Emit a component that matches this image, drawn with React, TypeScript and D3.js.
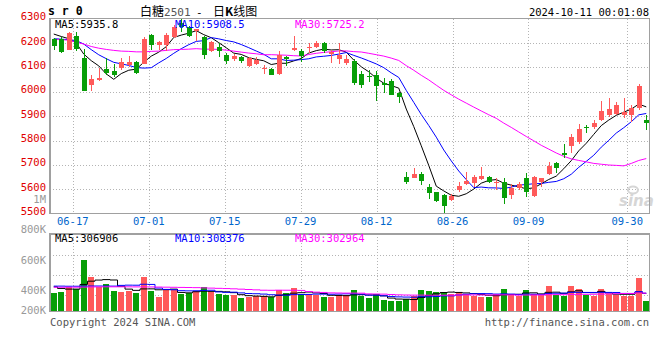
import React from 'react';
import * as d3 from 'd3';

const dates = [
  '06-12','06-13','06-14','06-17','06-18','06-19','06-20','06-21','06-24','06-25','06-26','06-27','06-28',
  '07-01','07-02','07-03','07-04','07-05','07-08','07-09','07-10','07-11','07-12','07-15','07-16','07-17','07-18','07-19',
  '07-22','07-23','07-24','07-25','07-26','07-29','07-30','07-31','08-01','08-02','08-05','08-06','08-07','08-08','08-09',
  '08-12','08-13','08-14','08-15','08-16','08-19','08-20','08-21','08-22','08-23','08-26','08-27','08-28','08-29','08-30',
  '09-02','09-03','09-04','09-05','09-06','09-09','09-10','09-11','09-12','09-13','09-18','09-19','09-20',
  '09-23','09-24','09-25','09-26','09-27','09-30','10-08','10-09','10-10'
];

const open = [
  6215,6218,6171,6229,6138,6029,6048,6093,6086,6097,6111,6122,6116,6234,6193,6193,6223,6284,6264,6248,
  6223,6166,6185,6152,6133,6141,6105,6116,6092,6094,6073,6144,6171,6168,6180,6185,6199,6155,6133,6119,
  6125,6073,6064,6070,6036,6045,5994,5649,5648,5663,5608,5588,5577,5556,5597,5622,5626,5642,5649,5626,
  5631,5577,5604,5648,5573,5631,5662,5708,5748,5778,5793,5856,5855,5885,5905,5911,5905,5905,5933,5885
];
const high = [
  6221,6223,6245,6245,6177,6067,6097,6138,6116,6138,6149,6127,6223,6237,6210,6242,6275,6300,6270,6259,
  6229,6210,6199,6158,6155,6149,6144,6144,6111,6097,6166,6149,6229,6174,6199,6210,6204,6171,6199,6152,
  6133,6084,6090,6084,6056,6052,5999,5670,5686,5670,5620,5590,5579,5579,5629,5670,5659,5690,5655,5645,
  5648,5620,5631,5666,5653,5648,5714,5711,5785,5826,5867,5864,5885,5963,5974,5960,5974,5944,6031,5903
];
const low = [
  6173,6160,6171,6166,6004,6004,6045,6070,6059,6090,6100,6074,6114,6173,6173,6168,6220,6245,6223,6207,
  6136,6163,6141,6114,6127,6119,6103,6111,6073,6067,6070,6105,6168,6122,6158,6180,6158,6119,6116,6111,
  6026,6015,6042,5963,5994,5985,5953,5622,5645,5618,5560,5547,5501,5552,5590,5618,5611,5638,5625,5597,
  5540,5560,5597,5567,5570,5611,5659,5666,5727,5748,5785,5830,5848,5881,5897,5903,5892,5878,5926,5844
];
const close = [
  6188,6163,6242,6177,6004,6053,6056,6077,6067,6121,6122,6078,6218,6193,6203,6234,6267,6267,6231,6256,
  6152,6204,6166,6125,6147,6125,6138,6130,6097,6070,6152,6136,6179,6147,6182,6201,6166,6163,6152,6133,
  6037,6029,6060,6022,6029,5988,5977,5631,5662,5636,5584,5552,5533,5574,5614,5636,5649,5653,5631,5631,
  5563,5607,5620,5590,5651,5645,5696,5689,5742,5816,5847,5851,5871,5922,5930,5944,5916,5933,6025,5873
];
// volume in thousands of lots
const volumeK = [
  305,322,418,379,870,582,418,458,345,328,345,311,582,350,249,356,356,299,316,345,
  407,333,299,277,277,232,249,266,254,237,356,305,396,294,294,283,249,249,283,270,
  356,260,226,288,186,170,175,215,260,356,339,322,322,299,328,299,260,243,243,288,
  373,288,260,356,299,282,424,271,260,424,373,271,260,373,288,271,260,260,565,170
];

const ma5Head = [6237, 6227, 6218, 6200];
const ma10Head = [6218, 6216, 6214, 6210, 6196, 6173, 6152, 6136, 6121];
const ma30Head = [6215,6214,6212,6204,6196,6186,6179,6174,6170,6167,6166,6164,6164,6166,6167,6170,6173,6174,6175,6177,6175,6175,6174,6171,6167,6163,6159,6156,6152];
const volMa5Head = [418, 390, 379, 379];
const volMa10Head = [430, 430, 428, 428, 430, 432, 432, 432, 430];
const volMa30Head = [410,410,411,412,414,416,417,418,418,418,418,417,417,416,414,412,410,408,406,404,400,396,392,388,384,378,372,366,360];

const tickDates = ['06-17','07-01','07-15','07-29','08-12','08-26','09-09','09-30'];
const priceTicks = [6300,6200,6100,6000,5900,5800,5700,5600,5500];
const volTickValues = [1000, 800, 600, 400, 200];
const volTickText = ['1M','800K','600K','400K','200K'];
const volGridSteps = [1, 2, 3];
const priceLegend = ['MA5:5935.8', 'MA10:5908.5', 'MA30:5725.2'];
const volLegend = ['MA5:306906', 'MA10:308376', 'MA30:302964'];
const maColors = ['#000000', '#0000ff', '#ff00ff'];

const RED = '#ff5a5a';
const GREEN = '#079e07';
const GRID = '#b4b4b4';
const MONO = '"DejaVu Sans Mono", "Liberation Mono", monospace';

function movingAvg(values: number[], n: number, head: number[]): number[] {
  return values.map((_, i) => (i < n - 1 ? head[i] : d3.mean(values.slice(i - n + 1, i + 1)) as number));
}

export default function App() {
  const L = 50, R = 650;
  const mainTop = 18.7, mainBottom = 213.7;
  const volTop = 234, volBottom = 311.3;
  const n = close.length;

  const x = d3.scaleBand<number>().domain(d3.range(n)).range([L, R]).paddingInner(0.33).paddingOuter(0.165);
  const cx = (i: number) => (x(i) as number) + x.bandwidth() / 2;
  const gridX = d3.scalePoint<number>().domain(d3.range(n)).range([L, R]);
  const y = d3.scaleLinear().domain([5500, 6300]).range([mainBottom, mainTop]);
  const yv = d3.scaleLinear().domain([0, 1320]).range([volBottom, volTop]);
  const volLabelY = d3.scaleLinear().domain([1000, 400]).range([203.3, 293.6]);
  const volGridY = d3.scaleLinear().domain([0, 4]).range([315.3, 235.3]);

  const ma = [movingAvg(close, 5, ma5Head), movingAvg(close, 10, ma10Head), movingAvg(close, 30, ma30Head)];
  const vma = [movingAvg(volumeK, 5, volMa5Head), movingAvg(volumeK, 10, volMa10Head), movingAvg(volumeK, 30, volMa30Head)];

  const priceLine = d3.line<number>().x((_, i) => cx(i)).y((d) => y(d));
  const volLine = d3.line<number>().x((_, i) => cx(i)).y((d) => yv(d)).curve(d3.curveStep);

  const tickIdx = tickDates.map((t) => dates.indexOf(t));
  const bw = x.bandwidth();
  const vbw = 6;

  return (
    <svg width={660} height={360} style={{ position: 'absolute', left: 0, top: 0, background: '#fff' }}>
      <rect x={0} y={0} width={660} height={360} fill="#fff" />
      {/* title */}
      <text x={48} y={15} fontFamily={MONO} fontWeight="bold" fontSize={11.5} fill="#000">s r 0</text>
      <text x={140} y={16} fontFamily='"Noto Sans CJK SC", sans-serif' fontSize={12} fill="#000">白糖<tspan fill="#555" fontFamily={MONO} fontSize={11}>2501</tspan></text>
      <text x={196} y={16} fontFamily={MONO} fontSize={11} fill="#000">-</text>
      <text x={213} y={16} fontFamily='"Noto Sans CJK SC", sans-serif' fontSize={12} fill="#000">日<tspan fontWeight="bold">K</tspan>线图</text>
      <text x={649} y={15.7} textAnchor="end" fontFamily={MONO} fontSize={10.5} fill="#000">2024-10-11 00:01:08</text>

      {/* main grid */}
      <g stroke={GRID} strokeWidth={1} strokeDasharray="1,2" shapeRendering="crispEdges">
        {priceTicks.slice(1, -1).map((t) => (
          <line key={'h' + t} x1={L} x2={R} y1={Math.round(y(t)) + 0.5} y2={Math.round(y(t)) + 0.5} />
        ))}
        {tickIdx.map((i) => (
          <line key={'v' + i} x1={Math.round(gridX(i) as number) + 0.5} x2={Math.round(gridX(i) as number) + 0.5} y1={mainTop} y2={mainBottom} />
        ))}
        {volGridSteps.map((s) => (
          <line key={'vh' + s} x1={L} x2={R} y1={Math.round(volGridY(s)) + 0.5} y2={Math.round(volGridY(s)) + 0.5} />
        ))}
        {tickIdx.map((i) => (
          <line key={'vv' + i} x1={Math.round(gridX(i) as number) + 0.5} x2={Math.round(gridX(i) as number) + 0.5} y1={volTop} y2={volBottom} />
        ))}
      </g>

      {/* sina watermark */}
      <g fill="#d6d6d6" stroke="none">
        <ellipse cx={633} cy={190} rx={5} ry={3.5} fill="none" stroke="#d6d6d6" strokeWidth={2} />
        <text x={619} y={206} fontFamily='"DejaVu Sans", sans-serif' fontStyle="italic" fontWeight="bold" fontSize={15}>sina</text>
      </g>

      {/* MA lines main */}
      {ma.map((m, k) => (
        <path key={'ma' + k} d={priceLine(m) as string} fill="none" stroke={maColors[k]} strokeWidth={1} />
      ))}

      {/* candles */}
      <g shapeRendering="crispEdges">
        {close.map((c, i) => {
          const o = open[i];
          const up = c >= o;
          const col = up ? RED : GREEN;
          const xc = Math.round(cx(i)) + 0.5;
          const top = y(Math.max(o, c));
          const h = Math.max(1, y(Math.min(o, c)) - top);
          return (
            <g key={'c' + i}>
              <line x1={xc} x2={xc} y1={y(high[i])} y2={y(low[i])} stroke={col} strokeWidth={1} />
              <rect x={xc - bw / 2} y={top} width={bw} height={h} fill={col} />
            </g>
          );
        })}
      </g>

      {/* volume bars */}
      <g shapeRendering="crispEdges">
        {volumeK.map((v, i) => (
          <rect key={'v' + i} x={cx(i) - vbw / 2} y={yv(v)} width={vbw} height={volBottom - yv(v)} fill={close[i] >= open[i] ? RED : GREEN} />
        ))}
      </g>
      {vma.map((m, k) => (
        <path key={'vma' + k} d={volLine(m) as string} fill="none" stroke={maColors[k]} strokeWidth={1} />
      ))}

      {/* borders */}
      <g fill="none" stroke="#a0a0a0" strokeWidth={1.5} shapeRendering="crispEdges">
        <rect x={L} y={mainTop} width={R - L - 0.5} height={mainBottom - mainTop} />
        <rect x={L} y={volTop} width={R - L - 0.5} height={volBottom - volTop} />
      </g>

      {/* legends */}
      {priceLegend.map((t, k) => (
        <text key={'pl' + k} x={[55, 175, 295][k]} y={27.5} fontFamily={MONO} fontSize={10.5} fill={maColors[k]}>{t}</text>
      ))}
      {volLegend.map((t, k) => (
        <text key={'vl' + k} x={[55, 175, 295][k]} y={242} fontFamily={MONO} fontSize={10.5} fill={maColors[k]}>{t}</text>
      ))}

      {/* price axis labels */}
      {priceTicks.map((t) => (
        <text key={'pt' + t} x={46} y={y(t) + 1.5} textAnchor="end" fontFamily={MONO} fontSize={10.5} fill="#e00000">{t}</text>
      ))}
      {volTickValues.map((v, k) => (
        <text key={'vt' + k} x={46} y={Math.min(volLabelY(v), volBottom + 3)} textAnchor="end" fontFamily={MONO} fontSize={10.5} fill="#999">{volTickText[k]}</text>
      ))}

      {/* date labels */}
      {tickIdx.map((i, k) => (
        <text key={'dt' + k} x={gridX(i) as number} y={225} textAnchor="middle" fontFamily={MONO} fontSize={10.5} fill="#0066cc">{tickDates[k]}</text>
      ))}

      {/* footer */}
      <text x={50} y={326} fontFamily={MONO} fontSize={10.5} fill="#555">Copyright 2024 SINA.COM</text>
      <text x={649} y={326} textAnchor="end" fontFamily={MONO} fontSize={10.5} fill="#555">http://finance.sina.com.cn</text>
    </svg>
  );
}
